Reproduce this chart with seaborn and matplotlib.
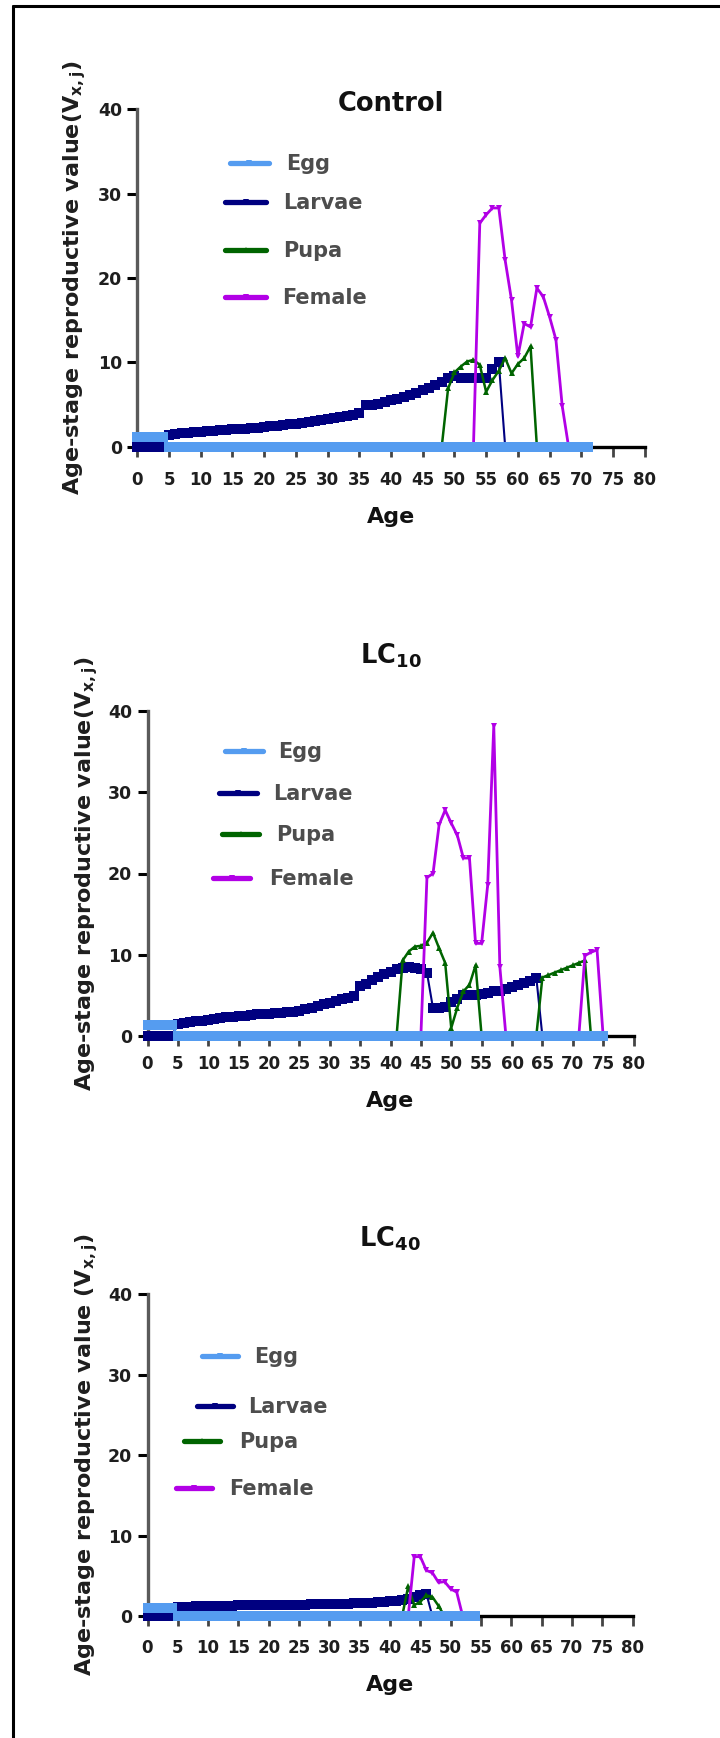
import numpy as np
import seaborn as sns
import matplotlib.pyplot as plt
from matplotlib.lines import Line2D


# Age-stage reproductive value (v_xj), one value per day of age.
# each series starts at the age given in the *_start list (order: Egg, Larvae, Pupa, Female)
stages = ['Egg', 'Larvae', 'Pupa', 'Female']
age_ticks = [0, 5, 10, 15, 20, 25, 30, 35, 40, 45, 50, 55, 60, 65, 70, 75, 80]
value_ticks = [0, 10, 20, 30, 40]

# Control
ctrl_start = [0, 0, 48, 53]
ctrl_egg = [1.2, 1.2, 1.2, 1.2, 1.2,
            0, 0, 0, 0, 0, 0, 0, 0, 0, 0, 0, 0, 0, 0, 0, 0, 0, 0, 0, 0, 0, 0, 0, 0, 0,
            0, 0, 0, 0, 0, 0, 0, 0, 0, 0, 0, 0, 0, 0, 0, 0, 0, 0, 0, 0, 0, 0, 0, 0, 0,
            0, 0, 0, 0, 0, 0, 0, 0, 0, 0, 0, 0, 0, 0, 0, 0, 0]
ctrl_larvae = [0, 0, 0, 0, 0,
               1.4, 1.5, 1.6, 1.65, 1.7, 1.8, 1.85, 1.9, 1.95, 2.0,
               2.05, 2.1, 2.15, 2.2, 2.25, 2.3, 2.4, 2.45, 2.55, 2.65,
               2.75, 2.85, 2.95, 3.05, 3.15, 3.3, 3.4, 3.5, 3.6, 3.75,
               3.95, 4.9, 5.0, 5.1, 5.3, 5.5, 5.7, 5.9, 6.1, 6.4,
               6.7, 7.0, 7.3, 7.7, 8.1, 8.4, 8.2, 8.1, 8.1, 8.1,
               8.2, 9.2, 10.0, 0]
ctrl_pupa = [0, 6.9, 8.8, 9.5, 10.1, 10.3, 9.7, 6.5, 7.9, 9.0, 10.5, 8.7, 9.8, 10.5, 11.9, 0]
ctrl_female = [0, 26.5, 27.5, 28.3, 28.3, 22.1, 17.4, 10.7, 14.6, 14.2, 18.8, 17.8, 15.4, 12.7, 4.8, 0]

# LC10
lc10_start = [0, 0, 41, 45]
lc10_egg = [1.4, 1.4, 1.4, 1.4, 1.4,
            0, 0, 0, 0, 0, 0, 0, 0, 0, 0, 0, 0, 0, 0, 0, 0, 0, 0, 0, 0, 0, 0, 0, 0, 0,
            0, 0, 0, 0, 0, 0, 0, 0, 0, 0, 0, 0, 0, 0, 0, 0, 0, 0, 0, 0, 0, 0, 0, 0, 0,
            0, 0, 0, 0, 0, 0, 0, 0, 0, 0, 0, 0, 0, 0, 0, 0, 0, 0, 0, 0, 0]
lc10_larvae = [0, 0, 0, 0, 0,
               1.5, 1.6, 1.7, 1.8, 1.9, 2.0, 2.1, 2.2, 2.3, 2.35,
               2.45, 2.5, 2.6, 2.65, 2.7, 2.75, 2.8, 2.85, 2.9, 3.0,
               3.1, 3.3, 3.5, 3.7, 3.9, 4.1, 4.3, 4.5, 4.7, 4.9,
               6.2, 6.4, 6.9, 7.3, 7.6, 7.9, 8.2, 8.4, 8.5, 8.4,
               8.2, 7.8, 3.4, 3.5, 3.6, 4.2, 4.5, 5.1, 5.0, 5.0,
               5.2, 5.3, 5.5, 5.6, 5.8, 6.0, 6.3, 6.5, 6.8, 7.2, 0]
lc10_pupa = [0, 9.3, 10.4, 11.0, 11.1, 11.5, 12.7, 10.8, 9.0, 1.0, 3.5, 5.5, 6.3, 8.7, 0,
             0, 0, 0, 0, 0, 0, 0, 0, 0,
             7.2, 7.5, 7.8, 8.1, 8.4, 8.7, 9.0, 9.3, 0]
lc10_female = [0, 19.5, 20.0, 26.0, 27.8, 26.2, 24.7, 21.9, 21.9, 11.4, 11.4, 18.6, 38.2, 8.5, 0,
               0, 0, 0, 0, 0, 0, 0, 0, 0, 0, 0, 0,
               9.9, 10.3, 10.6, 0]

# LC40
lc40_start = [0, 0, 42, 43]
lc40_egg = [1.0, 1.0, 1.0, 1.0, 1.0,
            0, 0, 0, 0, 0, 0, 0, 0, 0, 0, 0, 0, 0, 0, 0, 0, 0, 0, 0, 0, 0, 0, 0, 0, 0,
            0, 0, 0, 0, 0, 0, 0, 0, 0, 0, 0, 0, 0, 0, 0, 0, 0, 0, 0, 0, 0, 0, 0, 0, 0]
lc40_larvae = [0, 0, 0, 0, 0,
               1.2, 1.2, 1.2, 1.25, 1.25, 1.25, 1.3, 1.3, 1.3, 1.3,
               1.35, 1.35, 1.35, 1.35, 1.4, 1.4, 1.4, 1.4, 1.45, 1.45,
               1.45, 1.45, 1.5, 1.5, 1.5, 1.5, 1.55, 1.55, 1.55, 1.6,
               1.6, 1.65, 1.7, 1.75, 1.8, 1.85, 1.95, 2.05, 2.2, 2.45,
               2.6, 2.8, 0]
lc40_pupa = [0, 3.7, 1.4, 1.8, 2.6, 2.4, 1.3, 0]
lc40_female = [0, 7.4, 7.4, 5.7, 5.4, 4.2, 4.3, 3.4, 3.0, 0]

colors = {'Egg': '#559cf0', 'Larvae': '#000080', 'Pupa': '#006400', 'Female': '#b200e6'}
# thin connecting lines, the wide bands come from the dense big markers
widths = {'Egg': 1.5, 'Larvae': 1.5, 'Pupa': 1.8, 'Female': 2.0}
markers = {'Egg': 's', 'Larvae': 's', 'Pupa': '^', 'Female': 'v'}
msizes = {'Egg': 7.6, 'Larvae': 7.6, 'Pupa': 5, 'Female': 5}
key_markers = {'Egg': 'v', 'Larvae': 'v', 'Pupa': '^', 'Female': 'v'}

sns.set_style('ticks')
plt.rcParams['font.family'] = ['DejaVu Sans']
plt.rcParams['mathtext.default'] = 'bf'

W, H = 720, 1738
fig = plt.figure(figsize=(W / 100, H / 100), dpi=100)


def px_rect(left, top, right, bottom):
    return [left / W, 1 - bottom / H, (right - left) / W, (bottom - top) / H]


def draw_panel(rect, starts, series, title, title_pad, ylabel, ylab_x, xtick_pad, keys):
    ax = fig.add_axes(rect)
    start = dict(zip(stages, starts))
    data = dict(zip(stages, series))
    # egg drawn last so its zero band sits on top
    for i, name in enumerate(['Larvae', 'Pupa', 'Female', 'Egg']):
        vals = data[name]
        ages = np.arange(start[name], start[name] + len(vals))
        sns.lineplot(x=ages, y=vals, ax=ax, color=colors[name], linewidth=widths[name],
                     marker=markers[name], markersize=msizes[name], markeredgewidth=0,
                     clip_on=False, zorder=3 + i, estimator=None, legend=False)

    ax.set_xlim(0, 80)
    ax.set_ylim(0, 40)
    ax.set_xticks(age_ticks)
    ax.set_yticks(value_ticks)
    sns.despine(ax=ax)
    ax.spines['left'].set_color('#5a5a5a')
    ax.spines['left'].set_linewidth(2.4)
    ax.spines['bottom'].set_color('black')
    ax.spines['bottom'].set_linewidth(2.4)
    ax.tick_params(axis='x', length=7, width=2, color='#444444', pad=xtick_pad,
                   labelsize=12, labelcolor='#1e1e1e')
    ax.tick_params(axis='y', length=7, width=2.2, color='black', pad=4,
                   labelsize=12.5, labelcolor='#1e1e1e')
    for lab in ax.get_xticklabels() + ax.get_yticklabels():
        lab.set_fontweight('bold')

    ax.set_title(title, fontsize=18.5, fontweight='bold', y=1.0, pad=title_pad, color='#111111')
    ax.set_xlabel('Age', fontsize=16, fontweight='bold', labelpad=13, color='#111111')
    ax.set_ylabel(ylabel, fontsize=16, fontweight='bold', color='#1e1e1e')
    ax.yaxis.set_label_coords(ylab_x, 0.5)

    # legend entries are placed one by one, as in the original
    fs = 15 * 100 / 72
    for name, (hl, hr, y, tx) in zip(stages, keys):
        h = Line2D([], [], color=colors[name], lw=3.8, marker=key_markers[name],
                   markersize=4, markeredgewidth=0)
        fig.legend(handles=[h], labels=[name], loc='center left',
                   bbox_to_anchor=(hl / W, 1 - y / H), bbox_transform=fig.transFigure,
                   frameon=False, borderpad=0, borderaxespad=0,
                   handlelength=(hr - hl) / fs, handletextpad=(tx - hr) / fs,
                   prop={'size': 15, 'weight': 'bold'}, labelcolor='#4d4d4d')
    return ax


draw_panel(px_rect(137.3, 109.3, 644.7, 446.7), ctrl_start,
           [ctrl_egg, ctrl_larvae, ctrl_pupa, ctrl_female],
           'Control', -1.5, r'Age-stage reproductive value(V$_{x,j}$)', -0.097, 10.5,
           [(230, 269, 164, 286), (225, 266, 203, 283), (225, 266, 251, 283), (225, 266, 298, 282)])

draw_panel(px_rect(147.5, 711, 633.5, 1036), lc10_start,
           [lc10_egg, lc10_larvae, lc10_pupa, lc10_female],
           r'LC$_{10}$', 34, r'Age-stage reproductive value(V$_{x,j}$)', -0.098, 6.5,
           [(225, 263, 752, 278), (219, 257, 794, 273), (222, 259, 835, 276), (213, 250, 879, 269)])

draw_panel(px_rect(147.5, 1294, 632.5, 1616.3), lc40_start,
           [lc40_egg, lc40_larvae, lc40_pupa, lc40_female],
           r'LC$_{40}$', 34, r'Age-stage reproductive value (V$_{x,j}$)', -0.098, 9,
           [(202, 238, 1357, 254), (197, 233, 1407, 248), (184, 220, 1442, 239), (176, 212, 1489, 229)])

# black frame on the left and top edges of the original image
fig.add_artist(Line2D([13 / W, 13 / W], [0, 1 - 6 / H], transform=fig.transFigure,
                      color='black', lw=2.2))
fig.add_artist(Line2D([13 / W, 1], [1 - 6 / H, 1 - 6 / H], transform=fig.transFigure,
                      color='black', lw=2.2))

fig.savefig('out.png', dpi=100, facecolor='white')
